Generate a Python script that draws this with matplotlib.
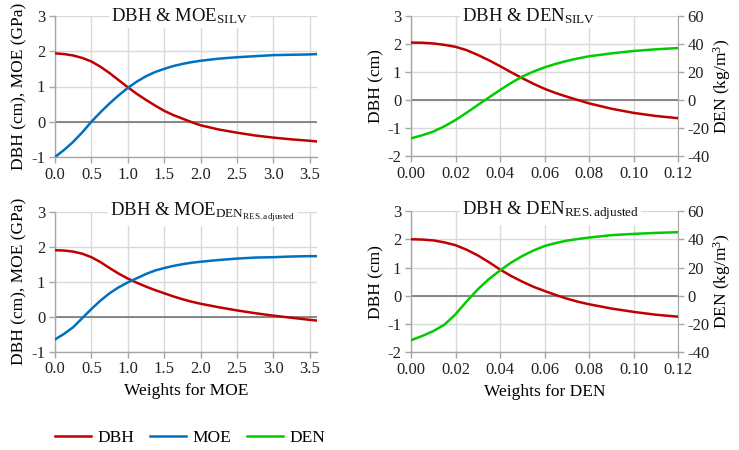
import matplotlib
matplotlib.use("Agg")
import matplotlib.pyplot as plt
from matplotlib.lines import Line2D

plt.rcParams['font.family'] = 'serif'
plt.rcParams['font.serif'] = ['Liberation Serif', 'DejaVu Serif']
plt.rcParams['mathtext.fontset'] = 'custom'
plt.rcParams['mathtext.rm'] = 'Liberation Serif'
plt.rcParams['mathtext.it'] = 'Liberation Serif:italic'
plt.rcParams['axes.unicode_minus'] = False

# ---------------- data ----------------
w_moe = [0, 0.125, 0.25, 0.375, 0.5, 0.625, 0.75, 0.875, 1.0, 1.125, 1.25, 1.375,
         1.5, 1.625, 1.75, 1.875, 2.0, 2.25, 2.5, 2.75, 3.0, 3.25, 3.5, 3.6]
silv_moe_dbh = [1.94, 1.92, 1.88, 1.81, 1.71, 1.56, 1.38, 1.18, 0.98, 0.79, 0.62, 0.46,
                0.31, 0.19, 0.09, -0.01, -0.10, -0.22, -0.31, -0.39, -0.45, -0.50, -0.54, -0.56]
silv_moe_moe = [-1.00, -0.80, -0.57, -0.30, 0.00, 0.27, 0.52, 0.75, 0.96, 1.14, 1.29, 1.41,
                1.50, 1.58, 1.64, 1.69, 1.73, 1.79, 1.83, 1.86, 1.89, 1.90, 1.91, 1.92]
adj_moe_dbh = [1.90, 1.89, 1.86, 1.80, 1.70, 1.56, 1.39, 1.23, 1.09, 0.97, 0.86, 0.76,
               0.67, 0.58, 0.50, 0.43, 0.37, 0.27, 0.18, 0.10, 0.03, -0.03, -0.09, -0.11]
adj_moe_moe = [-0.65, -0.49, -0.30, -0.04, 0.22, 0.46, 0.67, 0.84, 0.98, 1.10, 1.22, 1.32,
               1.39, 1.45, 1.50, 1.54, 1.57, 1.62, 1.66, 1.69, 1.70, 1.72, 1.73, 1.73]

w_den = [0.000, 0.005, 0.010, 0.015, 0.020, 0.025, 0.030, 0.035, 0.040, 0.045, 0.050,
         0.055, 0.060, 0.065, 0.070, 0.075, 0.080, 0.090, 0.100, 0.110, 0.120]
silv_den_dbh = [2.05, 2.045, 2.02, 1.97, 1.90, 1.78, 1.61, 1.42, 1.21, 0.99, 0.78,
                0.58, 0.40, 0.25, 0.12, 0.00, -0.12, -0.31, -0.46, -0.57, -0.65]
silv_den_den = [-27.4, -25.2, -22.6, -18.8, -14.3, -9.1, -3.6, 1.8, 7.1, 12.2, 16.7,
                20.3, 23.3, 25.8, 27.9, 29.7, 31.2, 33.3, 35.0, 36.2, 37.1]
adj_den_dbh = [2.00, 1.99, 1.96, 1.89, 1.79, 1.63, 1.43, 1.19, 0.93, 0.70, 0.50,
               0.32, 0.17, 0.03, -0.10, -0.21, -0.30, -0.45, -0.57, -0.67, -0.74]
adj_den_den = [-31.4, -28.5, -25.0, -20.5, -13.1, -4.0, 4.5, 11.8, 17.9, 23.5, 28.1,
               32.0, 35.2, 37.3, 39.0, 40.2, 41.2, 42.9, 43.8, 44.5, 45.0]

moe_ticks = [0.0, 0.5, 1.0, 1.5, 2.0, 2.5, 3.0, 3.5]
den_ticks = [0.00, 0.02, 0.04, 0.06, 0.08, 0.10, 0.12]

titles = [r"DBH & MOE$_{\mathrm{SILV}}$",
          r"DBH & DEN$_{\mathrm{SILV}}$",
          r"DBH & MOE$_{\mathrm{DEN}_{\mathrm{RES.adjusted}}}$",
          r"DBH & DEN$_{\mathrm{RES.adjusted}}$"]

RED = '#C00000'
BLUE = '#0070C0'
GREEN = '#00CC00'
GRID = '#D9D9D9'
SPINE = '#A6A6A6'
ZERO = '#7F7F7F'
TICKFS = 12
LABFS = 12.5

fig = plt.figure(figsize=(7.39, 4.5), dpi=100)
W, H = 739.0, 450.0

def axpos(x0, y0, x1, y1):
    return [x0 / W, 1 - y1 / H, (x1 - x0) / W, (y1 - y0) / H]

def style(ax):
    for s in ['top', 'right']:
        ax.spines[s].set_visible(False)
    for s in ['left', 'bottom']:
        ax.spines[s].set_color(SPINE)
        ax.spines[s].set_linewidth(1.0)
    ax.grid(True, color=GRID, linewidth=1.0)
    ax.set_axisbelow(True)
    ax.tick_params(axis='both', colors=SPINE, labelcolor='#222222',
                   labelsize=TICKFS, length=4, width=1.0, direction='out', pad=3)
    ax.axhline(0, color=ZERO, linewidth=1.3, zorder=1.5)

def add_title(ax, txt, xf):
    ax.text(xf, 1.0, txt, transform=ax.transAxes, ha='left', va='center',
            fontsize=13.5, color='#111111', zorder=10,
            bbox=dict(facecolor='white', edgecolor='none', pad=1.5))

# ---- top-left ----
ax1 = fig.add_axes(axpos(55, 16, 317, 157))
style(ax1)
ax1.plot(w_moe, silv_moe_dbh, color=RED, lw=1.8, zorder=3)
ax1.plot(w_moe, silv_moe_moe, color=BLUE, lw=1.8, zorder=3)
ax1.set_xlim(0, 3.6)
ax1.set_ylim(-1, 3)
ax1.set_yticks([-1, 0, 1, 2, 3])
ax1.set_xticks(moe_ticks)
ax1.set_xticklabels([f"{v:.1f}" for v in moe_ticks])
ax1.set_ylabel("DBH (cm), MOE (GPa)", fontsize=LABFS, labelpad=3)
add_title(ax1, titles[0], 0.215)

# ---- bottom-left ----
ax3 = fig.add_axes(axpos(55, 211.7, 317, 351.7))
style(ax3)
ax3.plot(w_moe, adj_moe_dbh, color=RED, lw=1.8, zorder=3)
ax3.plot(w_moe, adj_moe_moe, color=BLUE, lw=1.8, zorder=3)
ax3.set_xlim(0, 3.6)
ax3.set_ylim(-1, 3)
ax3.set_yticks([-1, 0, 1, 2, 3])
ax3.set_xticks(moe_ticks)
ax3.set_xticklabels([f"{v:.1f}" for v in moe_ticks])
ax3.set_ylabel("DBH (cm), MOE (GPa)", fontsize=LABFS, labelpad=3)
ax3.set_xlabel("Weights for MOE", fontsize=LABFS, labelpad=4)
add_title(ax3, titles[2], 0.21)

def den_panel(pos, dbh, den, title, xlabel=None):
    ax = fig.add_axes(pos)
    style(ax)
    ax.plot(w_den, dbh, color=RED, lw=1.8, zorder=3)
    ax.set_xlim(0, 0.12)
    ax.set_ylim(-2, 3)
    ax.set_yticks([-2, -1, 0, 1, 2, 3])
    ax.set_xticks(den_ticks)
    ax.set_xticklabels([f"{v:.2f}" for v in den_ticks])
    ax.set_ylabel("DBH (cm)", fontsize=LABFS, labelpad=2)
    if xlabel:
        ax.set_xlabel(xlabel, fontsize=LABFS, labelpad=4)
    ax2 = ax.twinx()
    ax2.plot(w_den, den, color=GREEN, lw=1.8, zorder=3)
    ax2.set_ylim(-40, 60)
    ax2.set_yticks([-40, -20, 0, 20, 40, 60])
    for s in ['top', 'left', 'bottom']:
        ax2.spines[s].set_visible(False)
    ax2.spines['right'].set_color(SPINE)
    ax2.tick_params(axis='y', colors=SPINE, labelcolor='#222222',
                    labelsize=TICKFS, length=4, width=1.0, direction='out', pad=3)
    ax2.set_ylabel(r"DEN (kg/m$^{3}$)", fontsize=LABFS, labelpad=1)
    ax2.text(0.191, 1.0, title, transform=ax2.transAxes, ha='left', va='center',
             fontsize=13.5, color='#111111', zorder=10,
             bbox=dict(facecolor='white', edgecolor='none', pad=1.5))
    return ax, ax2

den_panel(axpos(411, 16, 678, 156), silv_den_dbh, silv_den_den, titles[1])
den_panel(axpos(411, 211, 678, 352.3), adj_den_dbh, adj_den_den, titles[3],
          xlabel="Weights for DEN")

handles = [Line2D([], [], color=RED, lw=1.8),
           Line2D([], [], color=BLUE, lw=1.8),
           Line2D([], [], color=GREEN, lw=1.8)]
fig.legend(handles, ["DBH", "MOE", "DEN"], loc='center',
           bbox_to_anchor=(190 / W, 1 - 438 / H), ncol=3, frameon=False,
           fontsize=LABFS, handlelength=2.1, handletextpad=0.35,
           columnspacing=0.9)

fig.savefig("out.png", dpi=100, facecolor='white')
